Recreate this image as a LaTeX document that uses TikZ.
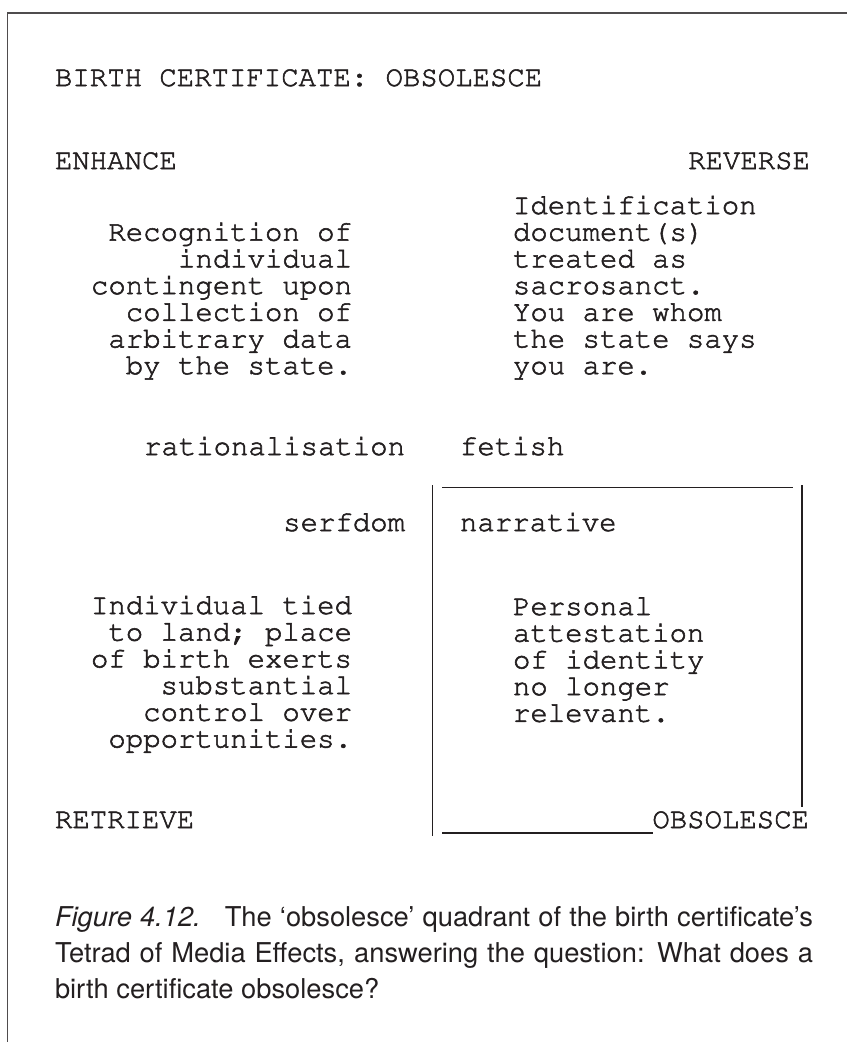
\documentclass[tikz,border=0pt]{standalone}
\usepackage[T1]{fontenc}
\usepackage{fontspec}
\setsansfont{TeX Gyre Heros}
% Courier (URW Nimbus Mono) for the typewritten tetrad
\newcommand\typewriter{\fontencoding{T1}\fontfamily{pcr}\fontseries{m}\fontshape{n}\fontsize{29}{26.7}\selectfont}
% slightly heavier glyphs: fill and stroke the outlines
\newcommand\inkon{\special{pdf:literal direct 2 Tr 0.55 w}}
\newcommand\inkoff{\special{pdf:literal direct 0 Tr}}
\definecolor{ink}{HTML}{231F20}

\begin{document}
\begin{tikzpicture}[x=1pt,y=-1pt,
  tw/.style={font=\typewriter, text=ink, inner sep=0pt, outer sep=0pt,
    execute at begin node=\inkon, execute at end node=\inkoff},
  lft/.style={tw, anchor=base west},
  rgt/.style={tw, anchor=base east},
  rule/.style={draw=ink, line width=1.3pt},
  frame/.style={draw=ink!80, line width=1.6pt},
  captext/.style={font=\sffamily\fontsize{27.3}{36}\selectfont, text=ink,
    text width=758pt, align=justify, inner sep=0pt, outer sep=0pt, anchor=base west}]
\useasboundingbox (0,0) rectangle (847,1042);

% open frame: left and top edges only
\coordinate (fb) at (7.5,1042);
\coordinate (fc) at (7.5,13);
\coordinate (fr) at (847,13);
\draw[frame] (fb) -- (fc) -- (fr);

% heading and quadrant labels
\node[lft] (title) at (55,86) {BIRTH CERTIFICATE: OBSOLESCE};
\node[lft] (enhance) at (55,169) {ENHANCE};
\node[rgt] (reverse) at (810,169) {REVERSE};

% enhance text, right aligned
\foreach [count=\i] \t in {Recognition of, individual, contingent upon,
    collection of, arbitrary data, by the state.}
  \node[rgt] (enh\i) at (352,{240.7+26.7*(\i-1)}) {\t};

% reverse text, left aligned
\foreach [count=\i] \t in {Identification, document(s), treated as,
    sacrosanct., You are whom, the state says, you are.}
  \node[lft] (rev\i) at (513,{214+26.7*(\i-1)}) {\t};

% central keywords
\node[rgt] (ratio) at (405,455) {rationalisation};
\node[lft] (fetish) at (460,455) {fetish};
\node[rgt] (serf) at (405,531) {serfdom};
\node[lft] (narr) at (460,531) {narrative};

% retrieve text, right aligned
\foreach [count=\i] \t in {Individual tied, to land; place, of birth exerts,
    substantial, control over, opportunities.}
  \node[rgt] (ret\i) at (352,{614+26.7*(\i-1)}) {\t};

% obsolesce text, left aligned
\foreach [count=\i] \t in {Personal, attestation, of identity, no longer, relevant.}
  \node[lft] (obs\i) at (513,{615+26.7*(\i-1)}) {\t};

\node[lft] (retrieve) at (55,828) {RETRIEVE};
\node[rgt] (obsolesce) at (809,828) {OBSOLESCE};

% highlighted quadrant box
\coordinate (lt) at (432.5,485);
\coordinate (lb) at (432.5,836);
\coordinate (ta) at (442,487.5);
\coordinate (tb) at (793,487.5);
\coordinate (rt) at (802,485);
\coordinate (rb) at (802,807);
\coordinate (ba) at (442,833);
\coordinate (bb) at (653,833);
\draw[rule] (lt) -- (lb);
\draw[rule] (ta) -- (tb);
\draw[rule] (rt) -- (rb);
\draw[rule] (ba) -- (bb);

% caption
\node[captext] (caption) at (55,926) {\textit{Figure 4.12.}\hspace{0.45em} The `obsolesce' quadrant of the birth certificate's Tetrad of Media Effects, answering the question: What does a birth certificate obsolesce?};
\end{tikzpicture}
\end{document}
